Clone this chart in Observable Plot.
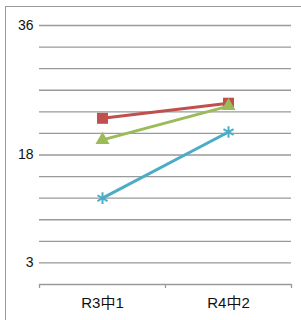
<!DOCTYPE html>
<html>
<head>
<meta charset="utf-8">
<script src="https://cdn.jsdelivr.net/npm/d3@7"></script>
<script src="https://cdn.jsdelivr.net/npm/@observablehq/plot@0.6"></script>
<style>
  html, body { margin: 0; padding: 0; background: #fff; }
  #wrap { position: relative; width: 301px; height: 320px; overflow: hidden; }
  #frame { position: absolute; left: 5px; top: 6px; width: 400px; height: 400px; border: 1px solid #9a9a9a; box-sizing: border-box; }
  #chart { position: absolute; left: 0; top: 0; }
</style>
</head>
<body>
<div id="wrap"><div id="frame"></div><div id="chart"></div></div>
<script>
const categories = ["R3中1", "R4中2"];
const seriesNames = ["red", "green", "blue"];
const redValues = [23.1, 25.2];
const greenValues = [20.1, 24.8];
const blueValues = [12.0, 21.2];
const yTickLabels = [3, 18, 36];
const gridTicks = [3, 6, 9, 12, 15, 18, 21, 24, 27, 30, 33, 36];
const categoryEdges = [0, 1, 2];

const colors = {red: "#C0504D", green: "#9BBB59", blue: "#4BACC6"};
const symbols = {red: "square", green: "triangle", blue: "asterisk"};
const valuesBy = {red: redValues, green: greenValues, blue: blueValues};

const data = [];
for (const s of seriesNames) {
  categories.forEach((c, i) => data.push({series: s, cat: c, xi: i + 0.5, value: valuesBy[s][i]}));
}
const font = "'Liberation Sans', Arial, 'Noto Sans CJK JP', sans-serif";

const marks = [
  Plot.ruleY(gridTicks, {stroke: "#9a9a9a", strokeWidth: 1.3}),
  Plot.ruleY([0], {stroke: "#9a9a9a", strokeWidth: 1.3}),
  Plot.axisX(categoryEdges, {tickSize: 4, tickFormat: () => "", stroke: "#9a9a9a", strokeWidth: 1.3, label: null}),
  Plot.axisX(categories.map((c, i) => i + 0.5), {tickSize: 0, tickPadding: 13, tickFormat: d => categories[Math.floor(d)], fontSize: 15, fill: "#111", label: null}),
  Plot.axisY(yTickLabels, {tickSize: 0, tickPadding: 6, fontSize: 14, fill: "#111", label: null})
];
for (const s of seriesNames) {
  const d = data.filter(r => r.series === s);
  marks.push(Plot.line(d, {x: "xi", y: "value", stroke: colors[s], strokeWidth: 3}));
  if (s === "blue") {
    marks.push(Plot.dot(d, {x: "xi", y: "value", symbol: symbols[s], stroke: colors[s], strokeWidth: 2, r: 5.5}));
  } else {
    marks.push(Plot.dot(d, {x: "xi", y: "value", symbol: symbols[s], fill: colors[s], stroke: "none", r: s === "red" ? 6.2 : 5.2}));
  }
}

const chart = Plot.plot({
  width: 301,
  height: 320,
  marginLeft: 39,
  marginRight: 10,
  marginTop: 25,
  marginBottom: 36,
  style: {fontFamily: font, background: "transparent", overflow: "visible"},
  x: {type: "linear", domain: [0, 2], label: null},
  y: {domain: [0, 36], label: null},
  marks
});
document.getElementById("chart").appendChild(chart);
</script>
</body>
</html>
